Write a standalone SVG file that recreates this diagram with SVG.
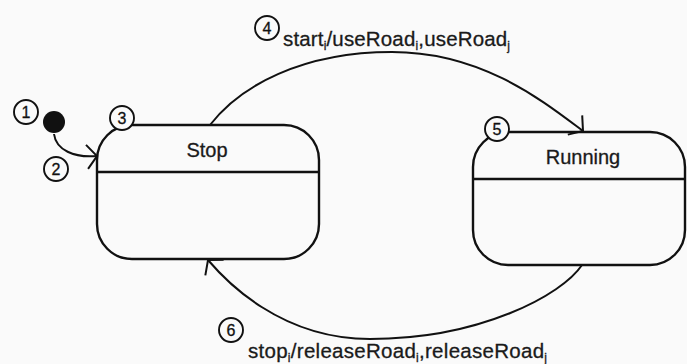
<svg xmlns="http://www.w3.org/2000/svg" width="687" height="364" viewBox="0 0 687 364">
  <style>
    .state { fill: none; stroke: #111; stroke-width: 2.4; }
    .divider { stroke: #111; stroke-width: 2.4; }
    .name { font-family: "Liberation Sans", Arial, sans-serif; font-size: 20px; fill: #1a1a1a; stroke: #1a1a1a; stroke-width: 0.3; text-anchor: middle; }
    .edge { fill: none; stroke: #111; stroke-width: 2; }
    .tag circle { fill: #fafafa; stroke: #111; stroke-width: 1.9; }
    .tag text { font-family: "Liberation Sans", Arial, sans-serif; font-size: 16px; fill: #111; stroke: #111; stroke-width: 0.3; text-anchor: middle; }
    .label { font-family: "Liberation Sans", Arial, sans-serif; font-size: 20.5px; fill: #1a1a1a; stroke: #1a1a1a; stroke-width: 0.3; }
    .sub { font-size: 12px; }
  </style>
  <defs>
    <marker id="open-arrow" viewBox="-13 -14 15 28" refX="0" refY="0" markerWidth="15" markerHeight="28" markerUnits="userSpaceOnUse" orient="auto" overflow="visible">
      <path d="M-10,-12 L0,0 L-10,12" fill="none" stroke="#111" stroke-width="2"/>
    </marker>
  </defs>

  <rect width="687" height="364" fill="#fafafa"/>

  <!-- transitions -->
  <g id="connectors">
    <path id="t-init" class="edge" d="M54,134 C56,150 74,158 97,156" marker-end="url(#open-arrow)"/>
    <path id="t-start" class="edge" d="M210,125 C240,86 302,52 392,52 C482,52 543,101 583,131" marker-end="url(#open-arrow)"/>
    <path id="t-stop" class="edge" d="M582,265 C562,295 480,339 370,339 C280,339 225,280 208,260" marker-end="url(#open-arrow)"/>
  </g>

  <!-- initial pseudo-state -->
  <g id="initial">
    <circle cx="54" cy="122" r="11" fill="#111"/>
  </g>

  <!-- state: Stop -->
  <g id="stop">
    <rect class="state" x="97" y="125" width="222" height="134" rx="35" ry="35"/>
    <line class="divider" x1="97" y1="172" x2="319" y2="172"/>
    <text class="name" x="207" y="157">Stop</text>
  </g>

  <!-- state: Running -->
  <g id="running">
    <rect class="state" x="473" y="132" width="212" height="133" rx="35" ry="35"/>
    <line class="divider" x1="473" y1="179" x2="685" y2="179"/>
    <text class="name" x="583" y="164">Running</text>
  </g>

  <!-- transition labels -->
  <g id="label-start">
    <text class="label" x="283" y="46" textLength="227" lengthAdjust="spacing">start<tspan class="sub" dy="4">i</tspan><tspan dy="-4">/useRoad</tspan><tspan class="sub" dy="4">i</tspan><tspan dy="-4">,useRoad</tspan><tspan class="sub" dy="4">j</tspan></text>
  </g>
  <g id="label-stop">
    <text class="label" x="248" y="358" textLength="299" lengthAdjust="spacing">stop<tspan class="sub" dy="4">i</tspan><tspan dy="-4">/releaseRoad</tspan><tspan class="sub" dy="4">i</tspan><tspan dy="-4">,releaseRoad</tspan><tspan class="sub" dy="4">j</tspan></text>
  </g>

  <!-- numbered markers -->
  <g id="tag-1" class="tag"><circle cx="26" cy="112" r="12"/><text x="26" y="118">1</text></g>
  <g id="tag-2" class="tag"><circle cx="56" cy="169" r="12"/><text x="56" y="175">2</text></g>
  <g id="tag-3" class="tag"><circle cx="122" cy="118" r="12"/><text x="122" y="124">3</text></g>
  <g id="tag-4" class="tag"><circle cx="267" cy="28" r="12"/><text x="267" y="34">4</text></g>
  <g id="tag-5" class="tag"><circle cx="497" cy="129" r="12"/><text x="497" y="135">5</text></g>
  <g id="tag-6" class="tag"><circle cx="231" cy="330" r="12"/><text x="231" y="336">6</text></g>
</svg>
